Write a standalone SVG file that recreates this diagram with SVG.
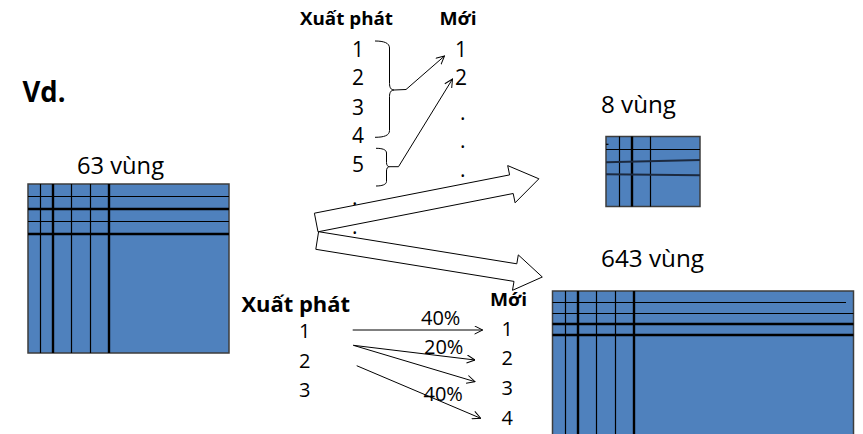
<svg xmlns="http://www.w3.org/2000/svg" width="863" height="434" viewBox="0 0 863 434">
  <style>
    .t { font-family: "Open Sans", "Noto Sans", "DejaVu Sans", sans-serif; fill: #000; }
    .b { font-weight: bold; }
    .grid { fill: #4F81BD; stroke: #3d3d3d; stroke-width: 1.5; }
    .thin { stroke: #000; stroke-width: 1.2; fill: none; }
    .thick { stroke: #000; stroke-width: 2.4; fill: none; }
    .brace { stroke: #000; stroke-width: 1; fill: none; }
    .conn { stroke: #000; stroke-width: 1; fill: none; marker-end: url(#open); }
    .block { fill: #fff; stroke: #000; stroke-width: 1; stroke-linejoin: miter; }
  </style>
  <defs>
    <marker id="open" viewBox="0 0 10 10" refX="9.5" refY="5" markerWidth="9" markerHeight="9" markerUnits="userSpaceOnUse" orient="auto">
      <path d="M0.5,0.5 L9.5,5 L0.5,9.5" fill="none" stroke="#000" stroke-width="1.1"/>
    </marker>
  </defs>

  <rect width="863" height="434" fill="#fff"/>

  <text class="t b" x="22.5" y="102.3" font-size="29" textLength="43" lengthAdjust="spacingAndGlyphs">Vd.</text>

  <!-- Original partition: 63 regions -->
  <g id="grid63">
    <text class="t" x="77" y="174.3" font-size="23.5" textLength="87" lengthAdjust="spacingAndGlyphs">63 vùng</text>
    <rect class="grid" x="28" y="184" width="201" height="169"/>
    <line class="thin" x1="40.5" y1="184" x2="40.5" y2="353"/>
    <line class="thick" x1="53" y1="184" x2="53" y2="353"/>
    <line class="thin" x1="71.5" y1="184" x2="71.5" y2="353"/>
    <line class="thin" x1="90.5" y1="184" x2="90.5" y2="353"/>
    <line class="thick" x1="109" y1="184" x2="109" y2="353"/>
    <line class="thin" x1="28" y1="196.5" x2="229" y2="196.5"/>
    <line class="thick" x1="28" y1="209" x2="229" y2="209"/>
    <line class="thin" x1="28" y1="221.5" x2="229" y2="221.5"/>
    <line class="thick" x1="28" y1="234" x2="229" y2="234"/>
  </g>

  <!-- Coarser partition: 8 regions -->
  <g id="grid8">
    <text class="t" x="601" y="113.3" font-size="24" textLength="75" lengthAdjust="spacingAndGlyphs">8 vùng</text>
    <rect class="grid" x="606" y="136.5" width="94" height="70"/>
    <line class="thin" x1="606" y1="144.3" x2="608.5" y2="144.3"/>
    <line class="thin" x1="619.5" y1="136.5" x2="619.5" y2="206.5"/>
    <line class="thick" x1="632" y1="136.5" x2="632" y2="206.5" stroke-width="2.6"/>
    <line class="thin" x1="650.5" y1="136.5" x2="650.5" y2="206.5"/>
    <line class="thin" x1="606" y1="149.5" x2="700" y2="149.5"/>
    <line x1="606" y1="162.3" x2="700" y2="160" stroke="#1c2a40" stroke-width="2"/>
    <line x1="606" y1="174.3" x2="700" y2="175.3" stroke="#1c2a40" stroke-width="2"/>
  </g>

  <!-- Finer partition: 643 regions -->
  <g id="grid643">
    <text class="t" x="601" y="267.3" font-size="24" textLength="103" lengthAdjust="spacingAndGlyphs">643 vùng</text>
    <rect class="grid" x="552.5" y="291" width="301" height="150"/>
    <line class="thin" x1="565.5" y1="291" x2="565.5" y2="434"/>
    <line class="thick" x1="578" y1="291" x2="578" y2="434"/>
    <line class="thin" x1="596.5" y1="291" x2="596.5" y2="434"/>
    <line class="thin" x1="615.5" y1="291" x2="615.5" y2="434"/>
    <line class="thick" x1="634" y1="291" x2="634" y2="434"/>
    <line class="thin" x1="552.5" y1="302.5" x2="846" y2="302.5"/>
    <line class="thin" x1="552.5" y1="313.5" x2="853.5" y2="313.5"/>
    <line class="thick" x1="552.5" y1="324" x2="853.5" y2="324"/>
    <line class="thick" x1="552.5" y1="335" x2="853.5" y2="335"/>
  </g>

  <!-- Block arrows from the original grid to both partitions -->
  <g id="blockArrows">
    <polygon class="block" points="314.4,213.2 509.6,174.9 507.7,165.6 538.9,178.8 515.1,202.8 513.2,193.5 318,231.8"/>
    <polygon class="block" points="318.6,231.7 516.8,263.8 518.3,254.9 542.3,277 512.5,290.3 514,281.4 315.8,249.3"/>
  </g>

  <!-- Merging table: many source regions to one new region -->
  <g id="mergeTable">
    <text class="t b" x="300" y="25" font-size="17.5" textLength="93" lengthAdjust="spacingAndGlyphs">Xuất phát</text>
    <text class="t b" x="439.5" y="25" font-size="17.5" textLength="37" lengthAdjust="spacingAndGlyphs">Mới</text>
    <g font-size="21">
      <text class="t" x="352" y="56.7">1</text>
      <text class="t" x="352" y="85">2</text>
      <text class="t" x="352" y="115">3</text>
      <text class="t" x="352" y="143">4</text>
      <text class="t" x="352" y="172">5</text>
      <text class="t" x="352" y="205">.</text>
      <text class="t" x="352" y="234">.</text>
      <text class="t" x="455" y="56.7">1</text>
      <text class="t" x="455" y="85">2</text>
      <text class="t" x="460" y="119.5">.</text>
      <text class="t" x="460" y="148">.</text>
      <text class="t" x="460" y="177">.</text>
    </g>
    <path class="brace" d="M375,41 C384,41 389.5,43 389.5,48 L389.5,83.5 C389.5,87.5 391,90 394,90 C391,90 389.5,92.5 389.5,96.5 L389.5,130.5 C389.5,135.5 384,137.3 375,137.3"/>
    <path class="brace" d="M376,148.3 C382,148.3 386.5,149.5 386.5,153 L386.5,162.5 C386.5,165 387.5,166.7 389.5,166.7 C387.5,166.7 386.5,168.5 386.5,171 L386.5,181.5 C386.5,184.5 382,186 376,186"/>
  </g>

  <!-- Splitting table: one source region shared among new regions -->
  <g id="splitTable">
    <text class="t b" x="241.5" y="311.7" font-size="21" textLength="108.5" lengthAdjust="spacingAndGlyphs">Xuất phát</text>
    <text class="t b" x="490" y="306" font-size="17.5" textLength="37" lengthAdjust="spacingAndGlyphs">Mới</text>
    <g font-size="20">
      <text class="t" x="299" y="338.3">1</text>
      <text class="t" x="299" y="368.3">2</text>
      <text class="t" x="299" y="396.7">3</text>
      <text class="t" x="501.5" y="336">1</text>
      <text class="t" x="501.5" y="365">2</text>
      <text class="t" x="501.5" y="395">3</text>
      <text class="t" x="501.5" y="425">4</text>
      <text class="t" x="421" y="325">40%</text>
      <text class="t" x="424" y="354">20%</text>
      <text class="t" x="423.5" y="400.7">40%</text>
    </g>
  </g>

  <!-- Connectors -->
  <g id="connectors">
    <path class="conn" d="M394,90 L406,89.5 L444.5,56"/>
    <path class="conn" d="M389.5,166.7 L398.5,166.7 L452.5,79"/>
    <path class="conn" d="M352.7,330 L482.7,330" stroke="#333" stroke-width="1.4"/>
    <path class="conn" d="M353.3,345.3 L475,360"/>
    <path class="conn" d="M353.3,345.3 L475,381.7"/>
    <path class="conn" d="M356.7,365.7 L480.7,418.3"/>
  </g>
</svg>
